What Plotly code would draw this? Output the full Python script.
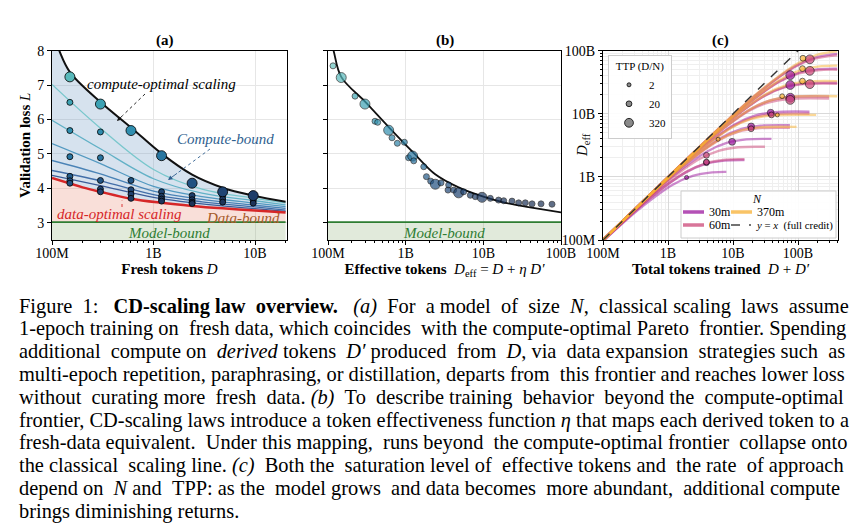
import plotly.graph_objects as go

# the page puts the figure 8px in from the window edge, so the figure is 8px smaller
OFF = 8
W, H = 867 - OFF, 532 - OFF
FONT = 'Liberation Serif, Times New Roman, serif'

# ---------------- panel (a): validation loss vs fresh tokens (D in billions)
a_opt_D = [0.1, 0.118, 0.15, 0.3, 0.6, 1.2, 2.4, 4.8, 9.6, 20]
a_opt_L = [8.6, 8.0, 7.38, 6.51, 5.77, 5.01, 4.40, 4.02, 3.79, 3.61]
a_dopt_D = [0.1, 0.2, 0.3, 0.6, 1.2, 2.4, 4.8, 10, 20]
a_dopt_L = [4.30, 4.03, 3.90, 3.70, 3.58, 3.49, 3.42, 3.36, 3.30]
model_bound = 3.02
a_iso_D = [0.1, 0.3, 1, 3, 10, 20]
a_iso_L = [
    [7.02, 5.75, 4.55, 3.98, 3.71, 3.58],
    [5.98, 5.15, 4.28, 3.86, 3.64, 3.52],
    [5.30, 4.72, 4.06, 3.76, 3.57, 3.47],
    [4.81, 4.42, 3.92, 3.68, 3.51, 3.42],
    [4.52, 4.22, 3.82, 3.61, 3.46, 3.37],
    [4.38, 4.08, 3.74, 3.55, 3.41, 3.33],
]
a_big_D = [0.15, 0.3, 0.6, 1.2, 2.4, 4.8, 9.6]
a_big_L = [7.24, 6.45, 5.68, 4.95, 4.15, 3.90, 3.79]
a_run_D = [0.15, 0.15, 0.15, 0.15, 0.15, 0.15, 0.3, 0.3, 0.3, 0.3, 0.3,
           0.6, 0.6, 0.6, 0.6, 1.2, 1.2, 1.2, 1.2, 2.4, 2.4, 2.4, 2.4,
           4.8, 4.8, 4.8, 9.6, 9.6]
a_run_L = [6.50, 5.68, 4.92, 4.35, 4.22, 4.15, 5.64, 4.89, 4.23, 3.98, 3.90,
           4.23, 3.96, 3.83, 3.71, 3.90, 3.77, 3.69, 3.63, 3.79, 3.67, 3.60, 3.56,
           3.79, 3.69, 3.60, 3.64, 3.57]

# ---------------- panel (b): loss vs effective tokens (billions)
b_fit_D = [0.1, 0.118, 0.148, 0.3, 0.6, 1.23, 2.4, 4.8, 10, 20, 40, 100]
b_fit_L = [8.6, 8.0, 7.24, 6.52, 5.79, 5.06, 4.41, 4.03, 3.76, 3.57, 3.45, 3.30]
b_D = [0.116, 0.148, 0.223, 0.299, 0.403, 0.436, 0.604, 0.667, 0.781, 0.962,
       1.09, 1.23, 1.27, 1.71, 1.85, 2.10, 2.41, 2.85, 3.58, 3.51, 4.15, 4.81,
       5.58, 6.80, 7.89, 9.62, 12.3, 15.7, 18.3, 23.4, 28.5, 34.7, 42.4, 55.3, 76.6]
b_L = [7.56, 7.22, 6.68, 6.45, 5.95, 5.92, 5.69, 5.47, 5.31, 5.34,
       4.89, 4.94, 4.80, 4.63, 4.34, 4.21, 4.12, 4.16, 4.10, 3.95, 3.95, 3.87,
       3.90, 3.80, 3.76, 3.74, 3.71, 3.66, 3.64, 3.63, 3.58, 3.58, 3.55, 3.55, 3.54]
b_opt = [0, 1, 0, 1, 0, 0, 1, 0, 0, 0, 0, 1, 0, 0, 0, 0, 1, 0, 0, 0, 0, 1,
         0, 0, 0, 1, 0, 0, 0, 0, 0, 0, 0, 0, 0]

# ---------------- panel (c): effective vs total tokens (billions), one row per run
c30_x = [
    [0.1, 0.36, 1.2, 2.4, 4.8, 7.9],
    [0.1, 0.55, 1.85, 3.7, 7.4, 15],
    [0.1, 0.4, 1.2, 4.0, 8.0, 16, 39],
    [0.1, 0.66, 2.0, 6.6, 13.2, 26.4, 75],
    [0.1, 1.08, 3.24, 10.8, 21.6, 43.2, 150],
    [0.1, 1.88, 5.64, 18.8, 37.6, 75.2, 300],
    [0.1, 3.1, 9.3, 31, 62, 124, 400],
    [0.1, 5.2, 15.6, 52, 104, 208, 400],
    [0.1, 9, 27, 90, 180, 400],
]
c30_y = [
    [0.096, 0.31, 0.76, 1.04, 1.18, 1.2],
    [0.097, 0.48, 1.17, 1.6, 1.81, 1.85],
    [0.099, 0.38, 1.04, 2.53, 3.46, 3.93, 4.0],
    [0.1, 0.63, 1.72, 4.17, 5.71, 6.48, 6.6],
    [0.1, 1.03, 2.8, 6.83, 9.34, 10.6, 10.8],
    [0.1, 1.79, 4.87, 11.9, 16.3, 18.5, 18.8],
    [0.1, 2.95, 8.03, 19.6, 26.8, 30.4, 31],
    [0.1, 4.95, 13.5, 32.9, 45.0, 51.0, 52],
    [0.1, 8.56, 23.3, 56.9, 77.8, 89.0],
]
c60_x = [
    [0.1, 0.57, 1.9, 3.8, 7.6, 15],
    [0.1, 0.3, 0.9, 3.0, 6.0, 12, 31],
    [0.1, 0.6, 1.8, 6, 12, 24, 75],
    [0.1, 1, 3, 10, 20, 40, 150],
    [0.1, 1.75, 5.25, 17.5, 35, 70, 300],
    [0.1, 3, 9, 30, 60, 120, 400],
    [0.1, 5, 15, 50, 100, 200, 400],
    [0.1, 8.5, 25.5, 85, 170, 400],
]
c60_y = [
    [0.097, 0.49, 1.2, 1.64, 1.87, 1.9],
    [0.098, 0.29, 0.78, 1.9, 2.59, 2.95, 3.0],
    [0.1, 0.57, 1.56, 3.79, 5.19, 5.89, 6.0],
    [0.1, 0.95, 2.59, 6.32, 8.65, 9.82, 10],
    [0.1, 1.67, 4.54, 11.1, 15.1, 17.2, 17.5],
    [0.1, 2.85, 7.78, 19.0, 25.9, 29.5, 30],
    [0.1, 4.76, 13.0, 31.6, 43.2, 49.1, 50],
    [0.1, 8.09, 22.0, 53.7, 73.5, 84.2],
]
c370_x = [
    [0.1, 0.62, 1.86, 6.2, 12.4, 24.8, 95],
    [0.1, 0.96, 2.88, 9.6, 19.2, 38.4, 190],
    [0.1, 1.9, 5.7, 19, 38, 76, 400],
    [0.1, 3.3, 9.9, 33, 66, 132, 400],
    [0.1, 5.8, 17.4, 58, 116, 232, 400],
    [0.1, 10, 30, 100, 200, 400],
]
c370_y = [
    [0.1, 0.59, 1.61, 3.92, 5.36, 6.09, 6.2],
    [0.1, 0.91, 2.49, 6.07, 8.3, 9.42, 9.6],
    [0.1, 1.81, 4.93, 12.0, 16.4, 18.6, 19],
    [0.1, 3.14, 8.55, 20.9, 28.5, 32.4, 33],
    [0.1, 5.52, 15.0, 36.7, 50.2, 57.0, 58],
    [0.1, 9.52, 25.9, 63.2, 86.5, 98.2],
]
c30_pt_x = [1.93, 3.9, 9.7, 19, 38, 76, 76, 76]
c30_pt_y = [0.98, 1.68, 3.6, 6.3, 10.4, 18, 28.6, 41]
c30_pt_ttp = [2, 20, 40, 40, 40, 320, 320, 320]
c60_pt_x = [3.9, 3.9, 19, 39, 76, 152, 152, 152]
c60_pt_y = [2.2, 1.72, 5.8, 9.6, 16.6, 29.5, 48, 73]
c60_pt_ttp = [20, 20, 20, 20, 320, 320, 320, 320]
c370_pt_x = [5.9, 48, 57, 117, 117, 119]
c370_pt_y = [3.95, 9.6, 19, 33, 52, 76]
c370_pt_ttp = [2, 2, 5, 20, 20, 20]
ttp_legend = [2, 20, 320]

caption = [
    'Figure 1:\u00a0 <b>CD-scaling law overview.</b>\u00a0 <i>(a)</i> For a model of size <i>N</i>, classical scaling laws assume',
    '1-epoch training on fresh data, which coincides with the compute-optimal Pareto frontier. Spending',
    'additional compute on <i>derived</i> tokens <i>D\u2032</i> produced from <i>D</i>, via data expansion strategies such as',
    'multi-epoch repetition, paraphrasing, or distillation, departs from this frontier and reaches lower loss',
    'without curating more fresh data. <i>(b)</i> To describe training behavior beyond the compute-optimal',
    'frontier, CD-scaling laws introduce a token effectiveness function <i>\u03b7</i> that maps each derived token to a',
    'fresh-data equivalent. Under this mapping, runs beyond the compute-optimal frontier collapse onto',
    'the classical scaling line. <i>(c)</i> Both the saturation level of effective tokens and the rate of approach',
    'depend on <i>N</i> and TPP: as the model grows and data becomes more abundant, additional compute',
    'brings diminishing returns.',
]
# extra word spaces per caption line, to imitate the justified block
caption_pad = [12, 3, 8, 1, 8, 0, 4, 6, 6, 0]

N_COLORS = {'30m': '#9c179e', '60m': '#cc4778', '370m': '#f8b133'}
ISO_COLORS = ['#79c7cc', '#62b1c6', '#5399c0', '#4a83b6', '#426ea8', '#3b5c98']
LOSS_SCALE = [[0.0, '#1c2f52'], [0.12, '#20497a'], [0.3, '#276f9c'],
              [0.55, '#3190b0'], [0.8, '#43aab6'], [1.0, '#68c5bf']]
TTP_SIZE = {2: 4, 5: 4.8, 20: 5.8, 40: 6.8, 320: 8.8}


def px(x):
    return (x - OFF) / W


def py(y):
    return 1 - (y - OFF) / H


def bn(vals):
    return [v * 1e9 for v in vals]


def justify(line, extra):
    words = line.split(' ')
    gaps = len(words) - 1
    wide = {int((k + 0.5) * gaps / extra) for k in range(extra)} if extra else set()
    out = words[0]
    for i, w in enumerate(words[1:]):
        out += (' \u00a0' if i in wide else ' ') + w
    return out


fig = go.Figure()

# ---- (a) regions
fig.add_trace(go.Scatter(x=bn([a_dopt_D[0], a_dopt_D[-1]]), y=[model_bound, model_bound],
                         mode='lines', line=dict(width=0), fill='tozeroy',
                         fillcolor='rgba(120,160,90,0.22)', xaxis='x', yaxis='y'))
fig.add_trace(go.Scatter(x=bn(a_dopt_D), y=a_dopt_L, mode='lines', line=dict(width=0, shape='spline'),
                         fill='tonexty', fillcolor='rgba(235,140,120,0.28)', xaxis='x', yaxis='y'))
fig.add_trace(go.Scatter(x=bn(a_opt_D), y=a_opt_L, mode='lines', line=dict(width=0, shape='spline'),
                         fill='tonexty', fillcolor='rgba(120,160,200,0.30)', xaxis='x', yaxis='y'))
for L, col in zip(a_iso_L, ISO_COLORS):
    fig.add_trace(go.Scatter(x=bn(a_iso_D), y=L, mode='lines',
                             line=dict(color=col, width=1.3, shape='spline'), xaxis='x', yaxis='y'))
fig.add_trace(go.Scatter(x=bn([a_dopt_D[0], a_dopt_D[-1]]), y=[model_bound, model_bound], mode='lines',
                         line=dict(color='#2e7d32', width=1.8), xaxis='x', yaxis='y'))
fig.add_trace(go.Scatter(x=bn(a_dopt_D), y=a_dopt_L, mode='lines',
                         line=dict(color='#d62728', width=2.5, shape='spline'), xaxis='x', yaxis='y'))
fig.add_trace(go.Scatter(x=bn(a_opt_D), y=a_opt_L, mode='lines',
                         line=dict(color='#111111', width=2, shape='spline'), xaxis='x', yaxis='y'))
fig.add_trace(go.Scatter(x=bn(a_run_D), y=a_run_L, mode='markers', xaxis='x', yaxis='y',
                         marker=dict(size=6, color=a_run_L, colorscale=LOSS_SCALE, cmin=3.5, cmax=7.6,
                                     line=dict(color='black', width=0.8))))
fig.add_trace(go.Scatter(x=bn(a_big_D), y=a_big_L, mode='markers', xaxis='x', yaxis='y',
                         marker=dict(size=10, color=a_big_L, colorscale=LOSS_SCALE, cmin=3.5, cmax=7.6,
                                     line=dict(color='black', width=0.8))))

# ---- (b)
fig.add_trace(go.Scatter(x=bn([b_fit_D[0], b_fit_D[-1]]), y=[model_bound, model_bound], mode='lines',
                         line=dict(color='#2e7d32', width=1.8), fill='tozeroy',
                         fillcolor='rgba(120,160,90,0.22)', xaxis='x2', yaxis='y2'))
fig.add_trace(go.Scatter(x=bn(b_fit_D), y=b_fit_L, mode='lines',
                         line=dict(color='#111111', width=1.8, shape='spline'), xaxis='x2', yaxis='y2'))
fig.add_trace(go.Scatter(x=bn(b_D), y=b_L, mode='markers', xaxis='x2', yaxis='y2',
                         marker=dict(size=[10 if o else 6 for o in b_opt], color=b_L,
                                     colorscale=LOSS_SCALE, cmin=3.5, cmax=7.6,
                                     line=dict(color='black', width=0.8))))

# ---- (c)
for name, xs, ys in [('30m', c30_x, c30_y), ('60m', c60_x, c60_y), ('370m', c370_x, c370_y)]:
    for x, y in zip(xs, ys):
        fig.add_trace(go.Scatter(x=bn(x), y=bn(y), mode='lines', opacity=0.5,
                                 line=dict(color=N_COLORS[name], width=2.4, shape='spline'),
                                 xaxis='x3', yaxis='y3'))
fig.add_trace(go.Scatter(x=[1e8, 4.2e11], y=[1e8, 4.2e11], mode='lines',
                         line=dict(color='#333333', width=1.4, dash='dash'), xaxis='x3', yaxis='y3'))
for name, x, y, t in [('30m', c30_pt_x, c30_pt_y, c30_pt_ttp), ('60m', c60_pt_x, c60_pt_y, c60_pt_ttp),
                      ('370m', c370_pt_x, c370_pt_y, c370_pt_ttp)]:
    fig.add_trace(go.Scatter(x=bn(x), y=bn(y), mode='markers', xaxis='x3', yaxis='y3',
                             marker=dict(size=[TTP_SIZE[v] for v in t], color=N_COLORS[name],
                                         line=dict(color='black', width=0.8))))
for t in ttp_legend:
    fig.add_trace(go.Scatter(x=[None], y=[None], mode='markers', name=str(t), showlegend=True,
                             marker=dict(size=TTP_SIZE[t], color='#8a8a8a',
                                         line=dict(color='black', width=0.8)),
                             xaxis='x3', yaxis='y3'))

for tr in fig.data:
    if tr.name is None:
        tr.showlegend = False

tick_font = dict(family=FONT, size=14, color='black')
title_font = dict(family=FONT, size=15, color='black')
axis_style = dict(showline=True, linecolor='black', linewidth=1, mirror=True, automargin=False,
                  ticks='outside', ticklen=4, tickcolor='black', tickfont=tick_font,
                  showgrid=True, gridcolor='#e6e6e6', zeroline=False)
tok_vals = [1e8, 1e9, 1e10, 1e11]
tok_text = ['100M', '1B', '10B', '100B']
minor_vals = [m * 10 ** e for e in range(8, 12) for m in range(2, 10)]
minor_ticks = dict(tickmode='array', tickvals=minor_vals, ticks='outside', ticklen=2,
                   tickcolor='black', showgrid=False)
minor_grid = dict(tickmode='array', tickvals=minor_vals, ticks='outside', ticklen=2,
                  tickcolor='black', showgrid=True, gridcolor='#efefef')
y_dom = [py(240), py(50.7)]
loss_ticks = [3, 4, 5, 6, 7, 8]

fig.update_layout(
    width=W, height=H, margin=dict(l=0, r=0, t=0, b=0, autoexpand=False),
    paper_bgcolor='white', plot_bgcolor='white', showlegend=True,
    font=dict(family=FONT, color='black'),
    xaxis=dict(axis_style, type='log', domain=[px(52), px(287)], range=[8, 10.315], anchor='y',
               tickvals=tok_vals, ticktext=tok_text, minor=minor_ticks, ticklabelstandoff=-4,
               title=dict(text='<b>Fresh tokens</b> <i>D</i>', font=title_font, standoff=1)),
    yaxis=dict(axis_style, domain=y_dom, range=[2.5, 8], anchor='x', tickvals=loss_ticks,
               title=dict(text='<b>Validation loss</b> <i>L</i>', font=title_font, standoff=2)),
    xaxis2=dict(axis_style, type='log', domain=[px(328), px(561)], range=[8, 11], anchor='y2',
                tickvals=tok_vals, ticktext=tok_text, minor=minor_ticks, ticklabelstandoff=-4,
                title=dict(text='<b>Effective tokens</b>\u00a0\u00a0<i>D</i><sub>eff</sub> = <i>D</i> + <i>\u03b7 D\u2032</i>',
                           font=title_font, standoff=1)),
    yaxis2=dict(axis_style, domain=y_dom, range=[2.5, 8], anchor='x2', tickvals=loss_ticks,
                showticklabels=False),
    xaxis3=dict(axis_style, type='log', domain=[px(603), px(838)], range=[8, 11.615], anchor='y3',
                tickvals=tok_vals, ticktext=tok_text, minor=minor_grid, gridcolor='#d9d9d9',
                ticklabelstandoff=-4,
                title=dict(text='<b>Total tokens trained</b>\u00a0\u00a0<i>D</i> + <i>D\u2032</i>',
                           font=title_font, standoff=1)),
    yaxis3=dict(axis_style, type='log', domain=y_dom, range=[8, 11], anchor='x3',
                tickvals=tok_vals, ticktext=tok_text, minor=minor_grid, gridcolor='#d9d9d9'),
    legend=dict(x=px(608), y=py(55), xanchor='left', yanchor='top', traceorder='normal',
                bgcolor='rgba(255,255,255,0.9)', bordercolor='#cccccc', borderwidth=1,
                font=dict(family=FONT, size=11, color='black'), itemsizing='trace',
                tracegroupgap=0, itemwidth=30,
                title=dict(text='TTP (D/N)', side='top center', font=dict(family=FONT, size=11))),
)

ann = []
shapes = []


def text(x, y, s, color='black', size=15, anchor='center', angle=0):
    ann.append(dict(xref='paper', yref='paper', x=px(x), y=py(y), text=s, showarrow=False,
                    xanchor=anchor, yanchor='middle', textangle=angle,
                    font=dict(family=FONT, size=size, color=color)))


def arrow(x0, y0, x1, y1, color):
    # dotted shaft plus a short solid head at (x1, y1)
    shapes.append(dict(type='line', xref='paper', yref='paper', x0=px(x0), y0=py(y0),
                       x1=px(x1 + (x0 - x1) * 0.2), y1=py(y1 + (y0 - y1) * 0.2),
                       line=dict(color=color, width=0.9, dash='dot'), layer='above'))
    ann.append(dict(xref='paper', yref='paper', x=px(x1), y=py(y1), text='', showarrow=True,
                    ax=(x0 - x1) * 0.25, ay=(y0 - y1) * 0.25, arrowhead=2, arrowsize=1,
                    arrowwidth=0.9, arrowcolor=color))


for lbl, x in [('(a)', 165), ('(b)', 445), ('(c)', 720)]:
    text(x, 41, '<b>%s</b>' % lbl)

text(161, 84, '<i>compute-optimal scaling</i>')
arrow(145, 94, 117, 121, '#111111')
text(225, 139, '<i>Compute-bound</i>', color='#2f5f8f')
arrow(210, 149, 168, 180, '#2f5f8f')
text(120, 214, '<i>data-optimal scaling</i>', color='#d62728')
arrow(122, 207, 122, 199, '#d62728')
text(243, 218, '<i>Data-bound</i>', color='#a65a2a')
text(169, 233, '<i>Model-bound</i>', color='#2e7d32')
text(444, 233, '<i>Model-bound</i>', color='#2e7d32')
text(583, 145, '<i>D</i><sub>eff</sub>', angle=-90)

# N legend of panel (c)
shapes.append(dict(type='rect', xref='paper', yref='paper', x0=px(681), y0=py(238), x1=px(836), y1=py(191),
                   fillcolor='rgba(255,255,255,0.9)', line=dict(color='#cccccc', width=1), layer='above'))
text(757, 199, '<i>N</i>', size=12)
for name, x, y in [('30m', 683, 212), ('370m', 731, 212), ('60m', 683, 225)]:
    shapes.append(dict(type='line', xref='paper', yref='paper', x0=px(x), x1=px(x + 21), y0=py(y), y1=py(y),
                       line=dict(color=N_COLORS[name], width=3.5), opacity=0.75, layer='above'))
    text(x + 24, y, name, size=12, anchor='left')
shapes.append(dict(type='line', xref='paper', yref='paper', x0=px(731), x1=px(751), y0=py(225), y1=py(225),
                   line=dict(color='#444444', width=1.5, dash='dash'), layer='above'))
text(754, 225, '<i>y</i> = <i>x</i>\u00a0 (full credit)', size=10.8, anchor='left')

for i, (line, pad) in enumerate(zip(caption, caption_pad)):
    text(17, 306 + i * 22.8, justify(line, pad), size=20.4, anchor='left')

fig.update_layout(annotations=ann, shapes=shapes)
fig.write_html('out.html')
